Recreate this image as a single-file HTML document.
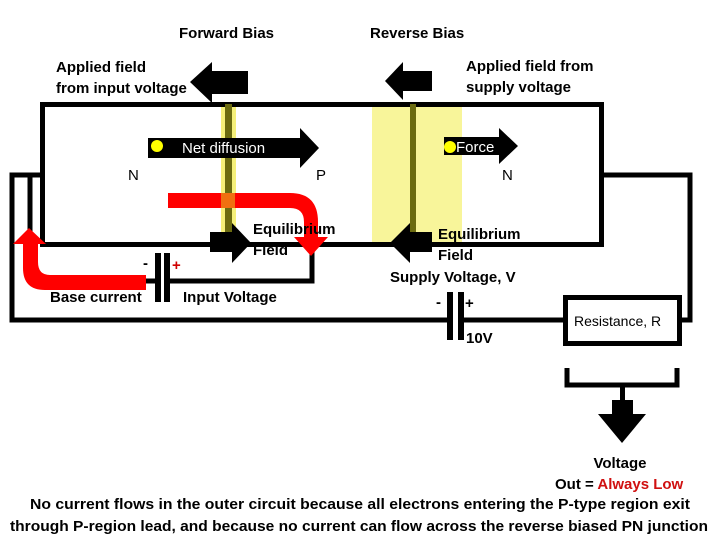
<!DOCTYPE html>
<html><head><style>
html,body{margin:0;padding:0;background:#fff;}
svg{display:block;}
text{font-family:"Liberation Sans",sans-serif;font-weight:bold;font-size:15px;fill:#000;}
</style></head><body>
<svg width="720" height="540" viewBox="0 0 720 540">
<rect x="221" y="102" width="15" height="133" fill="#f5f07a"/>
<rect x="372" y="102" width="90" height="141" fill="#f8f59a"/>
<rect x="42.5" y="104.5" width="559" height="140" fill="none" stroke="#000" stroke-width="5"/>
<rect x="225" y="104" width="7" height="130" fill="#6b6b10"/>
<rect x="410" y="104" width="6" height="139" fill="#6b6b10"/>
<polyline points="40,175 12,175 12,320 450,320" fill="none" stroke="#000" stroke-width="5"/>
<polyline points="461,320 565,320" fill="none" stroke="#000" stroke-width="5"/>
<polyline points="601,175 690,175 690,320 680,320" fill="none" stroke="#000" stroke-width="5"/>
<rect x="565.5" y="297.5" width="114" height="46" fill="#fff" stroke="#000" stroke-width="5"/>
<text x="574" y="326" style="font-weight:normal;font-size:14px">Resistance, R</text>
<polyline points="30,175 30,281 156,281" fill="none" stroke="#000" stroke-width="5"/>
<polyline points="168,281 312,281 312,244" fill="none" stroke="#000" stroke-width="5"/>
<rect x="155" y="253" width="6" height="49" fill="#000"/>
<rect x="164" y="253" width="6" height="49" fill="#000"/>
<rect x="447" y="292" width="6" height="48" fill="#000"/>
<rect x="458" y="292" width="6" height="48" fill="#000"/>
<text x="143" y="268">-</text>
<text x="172" y="270" style="fill:#d00000">+</text>
<text x="436" y="307">-</text>
<text x="465" y="308">+</text>
<text x="466" y="343">10V</text>
<path d="M168,193 L290,193 Q318,193 318,222 L318,237 L328,237 L311,256 L294,237 L304,237 L304,222 Q304,208 290,208 L168,208 Z" fill="#f00"/>
<rect x="221" y="193" width="14" height="15" fill="#f07010"/>
<path d="M146,275 L50,275 Q38,275 38,262 L38,244 L46,244 L29,228 L13,244 L23,244 L23,268 Q23,290 45,290 L146,290 Z" fill="#f00"/>
<path d="M148,138 L300,138 L300,128 L319,148 L300,168 L300,158 L148,158 Z" fill="#000"/>
<circle cx="157" cy="146" r="6" fill="#ff0"/>
<text x="182" y="153" style="fill:#fff;font-weight:normal">Net diffusion</text>
<path d="M444,137 L499,137 L499,128 L518,146 L499,164 L499,155 L444,155 Z" fill="#000"/>
<circle cx="450" cy="147" r="6" fill="#ff0"/>
<text x="456" y="152" style="fill:#fff;font-weight:normal">Force</text>
<path d="M210,232 L232,232 L232,223 L251,243 L232,263 L232,252 L210,252 Z" fill="#000"/>
<path d="M432,232 L410,232 L410,223 L390,243 L410,263 L410,252 L432,252 Z" fill="#000"/>
<path d="M248,71 L212,71 L212,62 L190,82 L212,103 L212,94 L248,94 Z" fill="#000"/>
<path d="M432,71 L403,71 L403,62 L385,81 L403,100 L403,91 L432,91 Z" fill="#000"/>
<text x="179" y="38">Forward Bias</text>
<text x="370" y="38">Reverse Bias</text>
<text x="56" y="72">Applied field</text>
<text x="56" y="93">from input voltage</text>
<text x="466" y="71">Applied field from</text>
<text x="466" y="92">supply voltage</text>
<text x="128" y="180" style="font-weight:normal">N</text>
<text x="316" y="180" style="font-weight:normal">P</text>
<text x="502" y="180" style="font-weight:normal">N</text>
<text x="253" y="234">Equilibrium</text>
<text x="253" y="255">Field</text>
<text x="438" y="239">Equilibrium</text>
<text x="438" y="260">Field</text>
<text x="390" y="282">Supply Voltage, V</text>
<text x="50" y="302">Base current</text>
<text x="183" y="302">Input Voltage</text>
<polyline points="567,368 567,385 677,385 677,368" fill="none" stroke="#000" stroke-width="5"/>
<rect x="620" y="385" width="5" height="16" fill="#000"/>
<path d="M612,400 L633,400 L633,414 L646,414 L622,443 L598,414 L612,414 Z" fill="#000"/>
<text x="620" y="468" text-anchor="middle">Voltage</text>
<text x="555" y="489">Out = <tspan style="fill:#d01010">Always Low</tspan></text>
<text x="30" y="509" textLength="660" lengthAdjust="spacingAndGlyphs">No current flows in the outer circuit because all electrons entering the P-type region exit</text>
<text x="10" y="531" textLength="698" lengthAdjust="spacingAndGlyphs">through P-region lead, and because no current can flow across the reverse biased PN junction</text>
</svg>
</body></html>
